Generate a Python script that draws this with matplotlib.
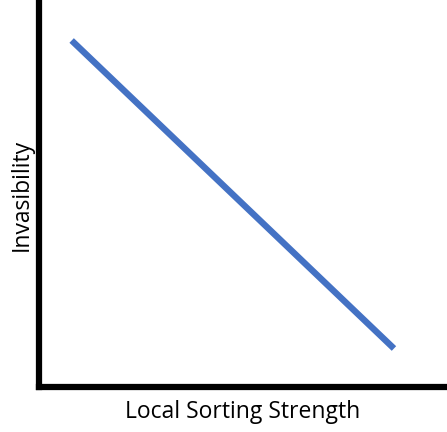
import matplotlib
matplotlib.use("Agg")
import matplotlib.pyplot as plt

# schematic trend: invasibility falls as local sorting strength rises
sorting_strength = [0.08, 0.87]
invasibility = [0.90, 0.10]

plt.rcParams['font.family'] = ['Open Sans', 'DejaVu Sans']

fig = plt.figure(figsize=(4.47, 4.32), dpi=100)
ax = fig.add_axes([39 / 447, 45 / 432, 408 / 447, 385 / 432])

ax.plot(sorting_strength, invasibility, color='#4472C4', linewidth=4.6,
        solid_capstyle='butt')

ax.set_xlim(0, 1)
ax.set_ylim(0, 1)
ax.set_xticks([])
ax.set_yticks([])
for side in ('top', 'right'):
    ax.spines[side].set_visible(False)
for side in ('left', 'bottom'):
    ax.spines[side].set_linewidth(4.5)
    ax.spines[side].set_color('black')

ax.set_xlabel("Local Sorting Strength", fontsize=16.5, labelpad=9)
ax.set_ylabel("Invasibility", fontsize=16.5, labelpad=4)

fig.savefig("out.png", dpi=100)
